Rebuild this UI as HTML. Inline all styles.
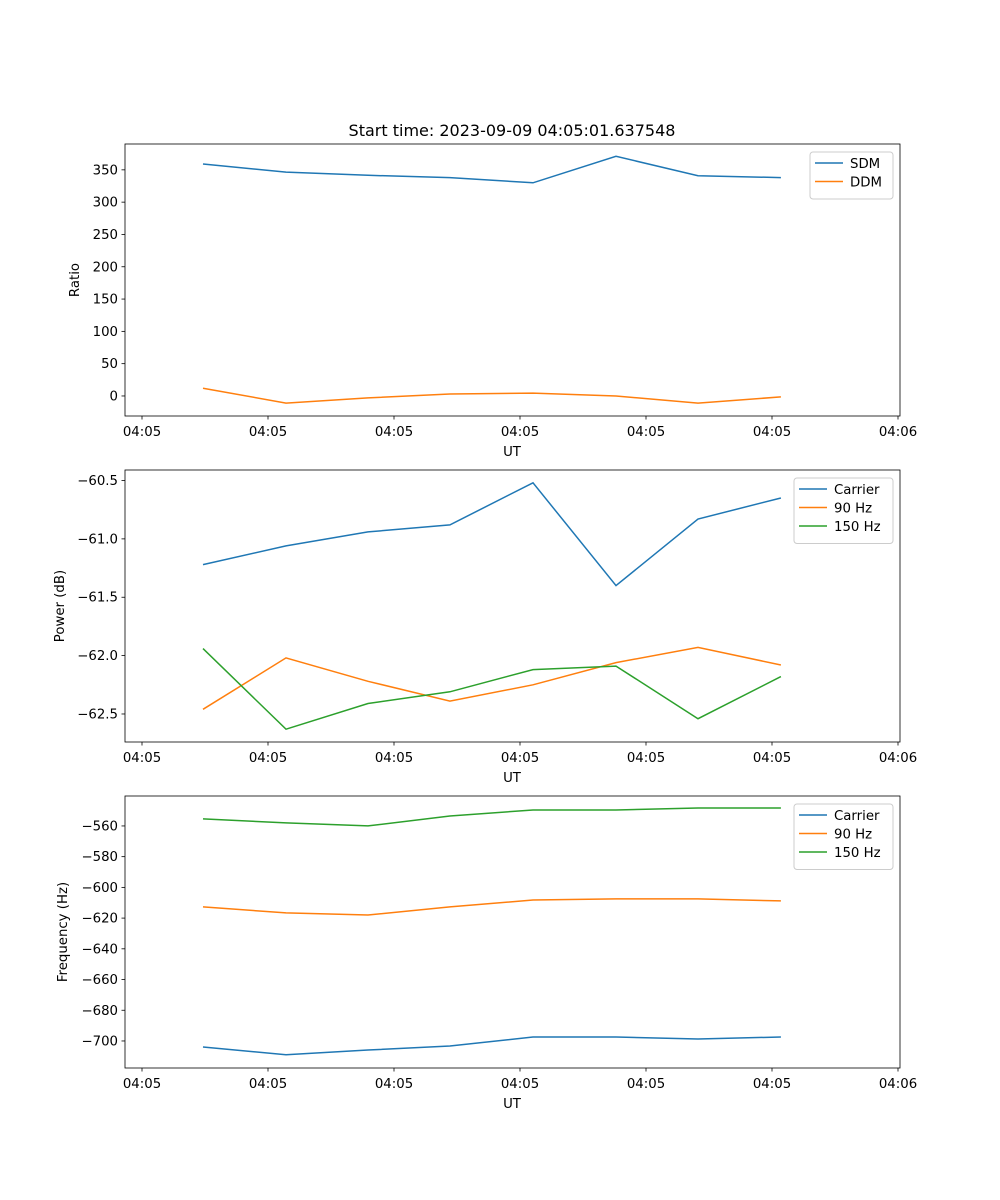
<!DOCTYPE html>
<html><head><meta charset="utf-8"><style>
body{margin:0;background:#fff}
svg{display:block;font-family:"DejaVu Sans","Liberation Sans",sans-serif}
</style></head><body>
<svg id="fig" width="1000" height="1200" viewBox="0 0 1000 1200" xmlns="http://www.w3.org/2000/svg">
<rect width="1000" height="1200" fill="#fff"/>
<text x="512" y="136" font-size="16" text-anchor="middle">Start time: 2023-09-09 04:05:01.637548</text>
</svg>
<script>
const xTickLabels = ["04:05","04:05","04:05","04:05","04:05","04:05","04:06"];
const times = [0.484,1.143,1.794,2.444,3.103,3.762,4.413,5.071];
const sdm = [359,346.5,341.5,338,330,371,341,338];
const ddm = [12,-11,-3,3,4.5,0,-11,-1.5];
const pwrCarrier = [-61.22,-61.06,-60.94,-60.88,-60.52,-61.40,-60.83,-60.65];
const pwr90 = [-62.46,-62.02,-62.22,-62.39,-62.25,-62.06,-61.93,-62.08];
const pwr150 = [-61.94,-62.63,-62.41,-62.31,-62.12,-62.09,-62.54,-62.18];
const frqCarrier = [-703.9,-709,-705.9,-703.3,-697.4,-697.4,-698.7,-697.4];
const frq90 = [-612.7,-616.6,-618,-612.7,-608.2,-607.5,-607.5,-608.8];
const frq150 = [-555.4,-558,-560,-553.5,-549.6,-549.6,-548.3,-548.3];
const yTicks1 = [0,50,100,150,200,250,300,350];
const yTicks2 = [-62.5,-62.0,-61.5,-61.0,-60.5];
const yTicks3 = [-700,-680,-660,-640,-620,-600,-580,-560];

const NS="http://www.w3.org/2000/svg";
const fig=document.getElementById('fig');
function mk(tag,attrs,parent){const e=document.createElementNS(NS,tag);for(const k in attrs)e.setAttribute(k,attrs[k]);(parent||fig).appendChild(e);return e;}
const C={blue:"#1f77b4",orange:"#ff7f0e",green:"#2ca02c"};
const L=125,R=900;
function xs(t){return 142+t*126;}
function panel(name,top,ymin,ymax,ticks,fmt,ylabel,ylabX,series,legend){
  const bot=top+272;
  const g=mk('g',{});
  
  
  const ys=v=>bot-(v-ymin)/(ymax-ymin)*272;
  series.forEach(s=>{
    const p=mk('polyline',{points:s.v.map((v,i)=>xs(times[i]).toFixed(1)+','+ys(v).toFixed(1)).join(' '),fill:'none',stroke:s.c,'stroke-width':1.5},g);
    
    
  });
  const fr=mk('rect',{x:L,y:top,width:R-L,height:272,fill:'none',stroke:'#000','stroke-width':0.8},g);
  
  
  xTickLabels.forEach((lb,i)=>{
    const x=xs(i);
    mk('line',{x1:x,x2:x,y1:bot,y2:bot+3.5,stroke:'#000','stroke-width':0.8},g);
    const t=mk('text',{x:x,y:bot+20,'font-size':13.3,'text-anchor':'middle'},g);t.textContent=lb;
    
    
  });
  ticks.forEach(v=>{
    const y=ys(v);
    mk('line',{x1:L,x2:L-3.5,y1:y,y2:y,stroke:'#000','stroke-width':0.8},g);
    const t=mk('text',{x:L-7,y:y+4.5,'font-size':13.3,'text-anchor':'end'},g);t.textContent=fmt(v);
    
    
  });
  const xl=mk('text',{x:512,y:bot+40,'font-size':13.3,'text-anchor':'middle'},g);xl.textContent='UT';
  
  
  const yl=mk('text',{x:ylabX,y:top+136,'font-size':13.3,'text-anchor':'middle',transform:`rotate(-90 ${ylabX} ${top+136})`},g);yl.textContent=ylabel;
  
  
  const lg=mk('g',{},g);
  
  
  const h=10+series.length*18.5;
  mk('rect',{x:legend,y:top+8,width:R-7-legend,height:h,fill:'#fff',stroke:'#ccc',rx:3},lg);
  series.forEach((s,i)=>{
    const y=top+19+i*18.5;
    mk('line',{x1:legend+5,x2:legend+33,y1:y,y2:y,stroke:s.c,'stroke-width':1.5},lg);
    const t=mk('text',{x:legend+40,y:y+5,'font-size':13.3},lg);t.textContent=s.n;
    
    
  });
}
panel('ratio-panel',144,-31,390,yTicks1,v=>v,'Ratio',79,[{n:'SDM',v:sdm,c:C.blue},{n:'DDM',v:ddm,c:C.orange}],810);
panel('power-panel',470,-62.74,-60.41,yTicks2,v=>'\u2212'+Math.abs(v).toFixed(1),'Power (dB)',64,[{n:'Carrier',v:pwrCarrier,c:C.blue},{n:'90 Hz',v:pwr90,c:C.orange},{n:'150 Hz',v:pwr150,c:C.green}],794);
panel('frequency-panel',796,-717.6,-540.5,yTicks3,v=>'\u2212'+Math.abs(v),'Frequency (Hz)',67,[{n:'Carrier',v:frqCarrier,c:C.blue},{n:'90 Hz',v:frq90,c:C.orange},{n:'150 Hz',v:frq150,c:C.green}],794);
</script>
</body></html>
